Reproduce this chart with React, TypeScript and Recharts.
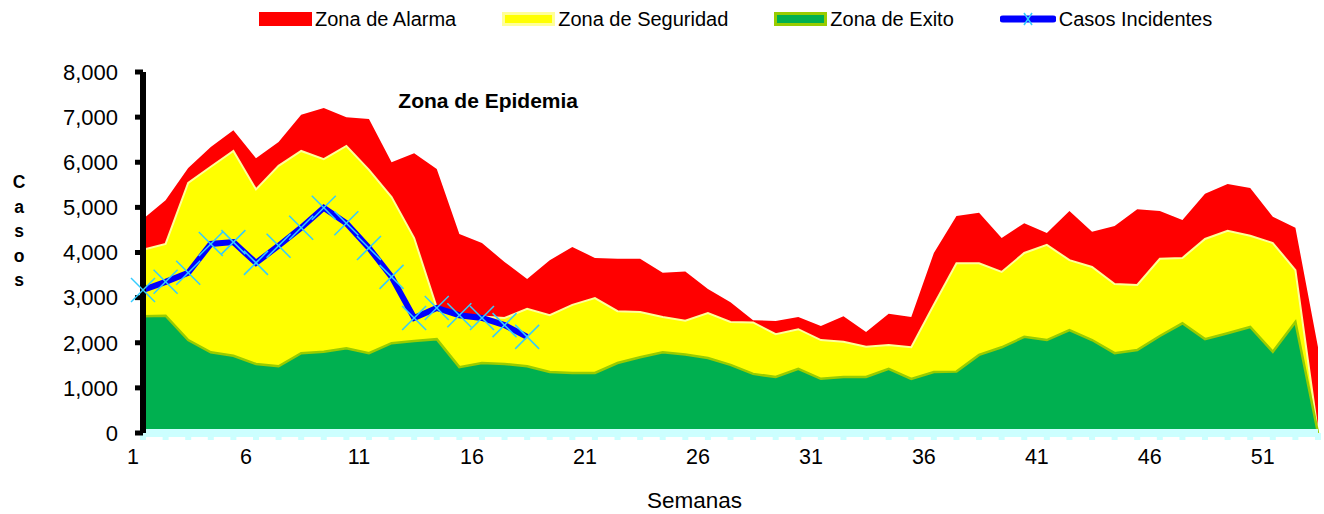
import React from 'react';
import { ComposedChart, Area, Line, XAxis, YAxis, Legend, ReferenceDot } from 'recharts';

const weeks = [1, 2, 3, 4, 5, 6, 7, 8, 9, 10, 11, 12, 13, 14, 15, 16, 17, 18, 19, 20, 21, 22, 23, 24, 25, 26, 27, 28, 29, 30, 31, 32, 33, 34, 35, 36, 37, 38, 39, 40, 41, 42, 43, 44, 45, 46, 47, 48, 49, 50, 51, 52, 53];
const xLabelWeeks = [1, 6, 11, 16, 21, 26, 31, 36, 41, 46, 51];
const yTicks = [0, 1000, 2000, 3000, 4000, 5000, 6000, 7000, 8000];

const alarma = [4740, 5160, 5870, 6340, 6710, 6090, 6450, 7050, 7200, 7000, 6960, 6000, 6200, 5850, 4410, 4210, 3790, 3410, 3830, 4120, 3880, 3860, 3860, 3550, 3580, 3190, 2900, 2500, 2480, 2570, 2370, 2590, 2240, 2640, 2570, 3990, 4810, 4880, 4320, 4650, 4430, 4920, 4460, 4590, 4960, 4920, 4720, 5300, 5520, 5430, 4790, 4550, 1900];
const seguridad = [4060, 4190, 5540, 5900, 6250, 5400, 5920, 6250, 6070, 6360, 5830, 5230, 4320, 2780, 2620, 2580, 2550, 2750, 2610, 2840, 2990, 2700, 2680, 2570, 2490, 2660, 2460, 2450, 2190, 2300, 2060, 2020, 1910, 1950, 1900, 2840, 3760, 3760, 3570, 3990, 4170, 3830, 3680, 3300, 3280, 3860, 3880, 4300, 4480, 4370, 4210, 3610, 0];
const exito = [2590, 2600, 2060, 1790, 1710, 1530, 1480, 1770, 1800, 1880, 1770, 1990, 2040, 2080, 1460, 1550, 1530, 1480, 1350, 1330, 1330, 1550, 1680, 1790, 1740, 1660, 1510, 1310, 1240, 1420, 1200, 1240, 1240, 1420, 1200, 1350, 1360, 1730, 1900, 2130, 2060, 2280, 2060, 1770, 1840, 2150, 2430, 2080, 2210, 2350, 1800, 2460, 0];
const casos = [3170, 3350, 3550, 4190, 4230, 3770, 4150, 4550, 4990, 4650, 4100, 3460, 2550, 2770, 2610, 2550, 2390, 2130];

const legendItems = [
  { name: 'Zona de Alarma', kind: 'red' },
  { name: 'Zona de Seguridad', kind: 'yellow' },
  { name: 'Zona de Exito', kind: 'green' },
  { name: 'Casos Incidentes', kind: 'line' },
];

const data = weeks.map((w, i) => ({
  week: w,
  alarma: alarma[i],
  seguridad: seguridad[i],
  exito: exito[i],
  casos: i < casos.length ? casos[i] : null,
}));

const FONT = '"Liberation Sans", Arial, sans-serif';

const CrossDot = (props: any) => {
  const { cx, cy, index } = props;
  if (cx == null || cy == null || isNaN(cx) || isNaN(cy)) return <g key={'d' + index} />;
  const s = 12;
  return (
    <g key={'d' + index}>
      <line x1={cx - s} y1={cy - s} x2={cx + s} y2={cy + s} stroke="#33ccff" strokeWidth={1.5} />
      <line x1={cx - s} y1={cy + s} x2={cx + s} y2={cy - s} stroke="#33ccff" strokeWidth={1.5} />
    </g>
  );
};

const Swatch = ({ kind }: { kind: string }) => {
  if (kind === 'line') {
    return (
      <svg width={56} height={20} style={{ display: 'block' }}>
        <line x1={3} y1={10} x2={53} y2={10} stroke="#0000ff" strokeWidth={7} strokeLinecap="round" />
        <line x1={24} y1={4} x2={32} y2={16} stroke="#33ccff" strokeWidth={1.5} />
        <line x1={24} y1={16} x2={32} y2={4} stroke="#33ccff" strokeWidth={1.5} />
      </svg>
    );
  }
  const fill = kind === 'red' ? '#ff0000' : kind === 'yellow' ? '#ffff00' : '#00b050';
  const stroke = kind === 'red' ? '#ff0000' : kind === 'yellow' ? '#ffff99' : '#99cc00';
  return (
    <svg width={53} height={14} style={{ display: 'block' }}>
      <rect x={1.5} y={1.5} width={50} height={11} fill={fill} stroke={stroke} strokeWidth={3} />
    </svg>
  );
};

const renderLegend = () => (
  <div
    style={{
      height: 38,
      display: 'flex',
      alignItems: 'center',
      paddingLeft: 259,
      fontFamily: FONT,
      fontSize: 20,
      color: '#000',
      boxSizing: 'border-box',
    }}
  >
    {legendItems.map((it, i) => (
      <div key={it.name} style={{ display: 'flex', alignItems: 'center', marginRight: i < legendItems.length - 1 ? 46 : 0 }}>
        <Swatch kind={it.kind} />
        <span style={{ marginLeft: 3, whiteSpace: 'nowrap' }}>{it.name}</span>
      </div>
    ))}
  </div>
);

const CasosLabel = () => {
  const letters = ['C', 'a', 's', 'o', 's'];
  return (
    <text x={19} y={188} textAnchor="middle" fontFamily={FONT} fontSize={17.5} fontWeight="bold" fill="#000">
      {letters.map((l, i) => (
        <tspan key={i} x={19} dy={i === 0 ? 0 : 24.5}>
          {l}
        </tspan>
      ))}
    </text>
  );
};

const SemanasLabel = (props: any) => {
  const vb = props.viewBox || {};
  const cx = (vb.x || 0) + (vb.width || 0) / 2 - 36;
  return (
    <text x={cx} y={508} textAnchor="middle" fontFamily={FONT} fontSize={22.5} fill="#000">
      Semanas
    </text>
  );
};

const EpidemiaLabel = (props: any) => {
  const vb = props.viewBox || {};
  return (
    <text x={vb.x} y={(vb.y || 0) + 8} textAnchor="start" fontFamily={FONT} fontSize={21} fontWeight="bold" fill="#000">
      Zona de Epidemia
    </text>
  );
};

export default function App() {
  return (
    <div style={{ position: 'absolute', left: 0, top: 0, width: 1324, height: 514, background: '#fff' }}>
      <ComposedChart
        width={1324}
        height={514}
        data={data}
        margin={{ top: 34, right: 6, bottom: 0, left: 63 }}
        style={{ fontFamily: FONT }}
      >
        <Legend
          verticalAlign="top"
          align="left"
          wrapperStyle={{ top: 0, left: 0, width: 1324, height: 38 }}
          content={renderLegend}
        />
        <XAxis
          type="number"
          dataKey="week"
          domain={[1, 53]}
          ticks={weeks}
          interval={0}
          tickFormatter={(v: number) => (xLabelWeeks.includes(v) ? String(v) : '')}
          axisLine={{ stroke: '#ccffff', strokeWidth: 8 }}
          tickLine={{ stroke: '#ccffff', strokeWidth: 6 }}
          tickSize={7}
          tickMargin={9}
          tick={{ fontSize: 21.5, fill: '#000', dx: -10, fontFamily: FONT }}
          height={81}
          label={<SemanasLabel />}
        />
        <YAxis
          type="number"
          domain={[0, 8000]}
          ticks={yTicks}
          interval={0}
          tickFormatter={(v: number) => v.toLocaleString('en-US')}
          axisLine={{ stroke: '#000', strokeWidth: 6 }}
          tickLine={{ stroke: '#000', strokeWidth: 5 }}
          tickSize={8}
          tickMargin={17}
          tick={{ fontSize: 22, fill: '#000', fontFamily: FONT }}
          width={80}
          label={<CasosLabel />}
        />
        <Area
          type="linear"
          dataKey="alarma"
          name="Zona de Alarma"
          fill="#ff0000"
          fillOpacity={1}
          stroke="none"
          isAnimationActive={false}
          dot={false}
          activeDot={false}
        />
        <Area
          type="linear"
          dataKey="seguridad"
          name="Zona de Seguridad"
          fill="#ffff00"
          fillOpacity={1}
          stroke="#ffff99"
          strokeWidth={2}
          isAnimationActive={false}
          dot={false}
          activeDot={false}
        />
        <Area
          type="linear"
          dataKey="exito"
          name="Zona de Exito"
          fill="#00b050"
          fillOpacity={1}
          stroke="#99cc00"
          strokeWidth={2.5}
          isAnimationActive={false}
          dot={false}
          activeDot={false}
        />
        <Line
          type="linear"
          dataKey="casos"
          name="Casos Incidentes"
          stroke="#0000ff"
          strokeWidth={6}
          dot={<CrossDot />}
          activeDot={false}
          connectNulls={false}
          isAnimationActive={false}
        />
        <ReferenceDot x={12.3} y={7380} r={0} fill="none" stroke="none" label={<EpidemiaLabel />} />
      </ComposedChart>
    </div>
  );
}
